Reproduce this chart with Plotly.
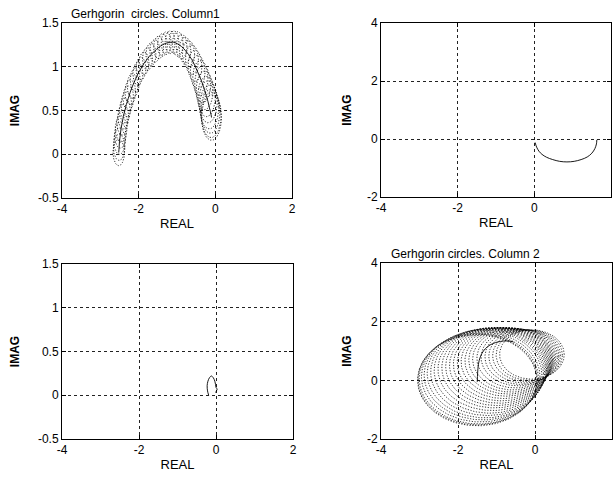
import numpy as np
import plotly.graph_objects as go

# ---------------- data ----------------
# Top-left: Gershgorin circles, column 1 (centers + radii); solid line = path of centers
tl_cx = [-2.52, -2.51, -2.50, -2.48, -2.46, -2.43, -2.40, -2.36, -2.32, -2.27, -2.22, -2.16, -2.09, -2.02,
         -1.94, -1.86, -1.77, -1.68, -1.58, -1.48, -1.38, -1.28, -1.18, -1.08, -0.98, -0.88, -0.79, -0.70,
         -0.61, -0.53, -0.46, -0.39, -0.33, -0.28, -0.23, -0.19, -0.16, -0.13, -0.11, -0.10]
tl_cy = [0.02, 0.08, 0.15, 0.22, 0.29, 0.36, 0.43, 0.50, 0.57, 0.64, 0.71, 0.78, 0.85, 0.92,
         0.98, 1.04, 1.09, 1.14, 1.18, 1.22, 1.25, 1.27, 1.28, 1.28, 1.26, 1.23, 1.19, 1.14,
         1.08, 1.01, 0.94, 0.87, 0.80, 0.73, 0.66, 0.60, 0.54, 0.49, 0.45, 0.42]
tl_r = [0.15, 0.15, 0.15, 0.15, 0.15, 0.14, 0.14, 0.14, 0.14, 0.14, 0.14, 0.14, 0.13, 0.13,
        0.13, 0.13, 0.13, 0.13, 0.13, 0.13, 0.13, 0.13, 0.13, 0.13, 0.14, 0.14, 0.15, 0.16,
        0.17, 0.18, 0.19, 0.20, 0.21, 0.22, 0.23, 0.24, 0.25, 0.25, 0.26, 0.26]

# Top-right: locus
tr_x = [0.02, 0.06, 0.12, 0.20, 0.32, 0.48, 0.66, 0.85, 1.04, 1.22, 1.38, 1.50, 1.58, 1.62, 1.63]
tr_y = [-0.12, -0.28, -0.42, -0.53, -0.63, -0.71, -0.77, -0.79, -0.77, -0.71, -0.62, -0.49, -0.33, -0.17, -0.03]

# Bottom-left: small loop
bl_x = [-0.19, -0.22, -0.23, -0.21, -0.17, -0.12, -0.07, -0.03, -0.01, 0.00, 0.03, 0.01, -0.01]
bl_y = [0.00, 0.05, 0.11, 0.16, 0.20, 0.22, 0.20, 0.16, 0.12, 0.09, 0.07, 0.05, 0.03]

# Bottom-right: Gershgorin circles, column 2
br_cx = [-1.50, -1.49, -1.46, -1.41, -1.35, -1.29, -1.23, -1.17, -1.11, -1.05, -0.99, -0.93, -0.87,
         -0.81, -0.75, -0.69, -0.63, -0.57, -0.50, -0.43, -0.36, -0.29, -0.22, -0.15, -0.08]
br_cy = [0.00, 0.03, 0.06, 0.12, 0.18, 0.23, 0.28, 0.33, 0.38, 0.43, 0.47, 0.51, 0.55,
         0.59, 0.63, 0.66, 0.69, 0.72, 0.75, 0.78, 0.80, 0.82, 0.84, 0.86, 0.88]
br_r = [1.55, 1.55, 1.55, 1.54, 1.53, 1.51, 1.48, 1.45, 1.41, 1.37, 1.33, 1.29, 1.25,
        1.21, 1.17, 1.13, 1.09, 1.05, 1.01, 0.97, 0.94, 0.91, 0.88, 0.86, 0.84]
br_lx = [-1.50, -1.49, -1.47, -1.42, -1.34, -1.23, -1.10, -0.96, -0.82, -0.68, -0.56]
br_ly = [-0.05, 0.25, 0.55, 0.80, 1.00, 1.15, 1.25, 1.31, 1.34, 1.34, 1.31]

x_ticks = [-4, -2, 0, 2]
x_ticktext = ['-4', '-2', '0', '2']
y_ticks_small = [-0.5, 0, 0.5, 1, 1.5]
y_ticktext_small = ['-0.5', '0', '0.5', '1', '1.5']
y_ticks_big = [-2, 0, 2, 4]
y_ticktext_big = ['-2', '0', '2', '4']

FONT = "Liberation Sans, Arial, sans-serif"


def circles(cx, cy, r, n=90):
    t = np.linspace(0, 2 * np.pi, n)
    xs, ys = [], []
    for a, b, c in zip(cx, cy, r):
        xs += list(a + c * np.cos(t)) + [None]
        ys += list(b + c * np.sin(t)) + [None]
    return xs, ys


fig = go.Figure()
dot = dict(color='black', width=0.8, dash='1.2px,1.6px')
solid = dict(color='black', width=0.9)

x1, y1 = circles(tl_cx, tl_cy, tl_r)
fig.add_trace(go.Scatter(x=x1, y=y1, mode='lines', line=dot, xaxis='x', yaxis='y', hoverinfo='skip'))
fig.add_trace(go.Scatter(x=tl_cx, y=tl_cy, mode='lines', line=solid, line_shape='spline', xaxis='x', yaxis='y'))

fig.add_trace(go.Scatter(x=tr_x, y=tr_y, mode='lines', line=solid, line_shape='spline', xaxis='x2', yaxis='y2'))

fig.add_trace(go.Scatter(x=bl_x, y=bl_y, mode='lines', line=solid, line_shape='spline', xaxis='x3', yaxis='y3'))

x4, y4 = circles(br_cx, br_cy, br_r, 160)
fig.add_trace(go.Scatter(x=x4, y=y4, mode='lines', line=dot, xaxis='x4', yaxis='y4', hoverinfo='skip'))
fig.add_trace(go.Scatter(x=br_lx, y=br_ly, mode='lines', line=solid, line_shape='spline', xaxis='x4', yaxis='y4'))

W, H = 613, 478


def xdom(l, r):
    return [l / W, r / W]


def ydom(t, b):
    return [1 - b / H, 1 - t / H]


def xax(dom, anchor):
    return dict(domain=dom, anchor=anchor, range=[-4, 2], tickvals=x_ticks, ticktext=x_ticktext,
                showgrid=True, gridcolor='#222', griddash='3px,3px', gridwidth=0.8,
                showline=True, linecolor='black', linewidth=1, mirror='ticks',
                ticks='inside', ticklen=4, tickcolor='black', zeroline=False, automargin=False,
                tickfont=dict(family=FONT, size=12, color='black'),
                title=dict(text='REAL', font=dict(family=FONT, size=13, color='black'), standoff=3))


def yax(dom, anchor, big):
    tv = y_ticks_big if big else y_ticks_small
    tt = y_ticktext_big if big else y_ticktext_small
    rg = [-2, 4] if big else [-0.5, 1.5]
    return dict(domain=dom, anchor=anchor, range=rg, tickvals=tv, ticktext=tt,
                showgrid=True, gridcolor='#222', griddash='3px,3px', gridwidth=0.8,
                showline=True, linecolor='black', linewidth=1, mirror='ticks',
                ticks='inside', ticklen=4, tickcolor='black', zeroline=False, automargin=False,
                tickfont=dict(family=FONT, size=12, color='black'),
                title=dict(text='<b>IMAG</b>', font=dict(family=FONT, size=12, color='black'),
                           standoff=12 if big else 15))


fig.update_layout(
    width=W, height=H, margin=dict(l=0, r=0, t=0, b=0, autoexpand=False),
    paper_bgcolor='white', plot_bgcolor='white', showlegend=False,
    xaxis=xax(xdom(62, 292), 'y'), yaxis=yax(ydom(23, 198), 'x', False),
    xaxis2=xax(xdom(381, 611), 'y2'), yaxis2=yax(ydom(23, 197), 'x2', True),
    xaxis3=xax(xdom(62, 293), 'y3'), yaxis3=yax(ydom(264, 439), 'x3', False),
    xaxis4=xax(xdom(381, 612), 'y4'), yaxis4=yax(ydom(263, 439), 'x4', True),
    annotations=[
        dict(text='Gerhgorin  circles. Column1', xref='paper', yref='paper', x=69 / W, y=1 - 14 / H,
             xanchor='left', yanchor='middle', showarrow=False,
             font=dict(family=FONT, size=12, color='black')),
        dict(text='Gerhgorin circles. Column 2', xref='paper', yref='paper', x=389 / W, y=1 - 254 / H,
             xanchor='left', yanchor='middle', showarrow=False,
             font=dict(family=FONT, size=12, color='black')),
    ],
)

fig.write_html("out.html")
